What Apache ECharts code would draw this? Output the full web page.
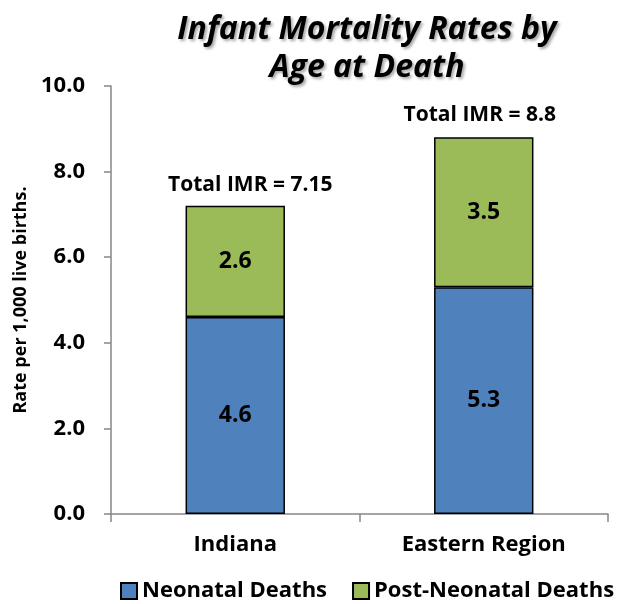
<!DOCTYPE html>
<html>
<head>
<meta charset="utf-8">
<script src="https://cdn.jsdelivr.net/npm/echarts@6/dist/echarts.min.js"></script>
<style>
  html, body { margin: 0; padding: 0; background: #fff; }
  #chart { width: 620px; height: 604px; }
</style>
</head>
<body>
<div id="chart"></div>
<script>
// data
const regions = ['Indiana', 'Eastern Region'];
const neonatal = [4.6, 5.3];
const postNeonatal = [2.6, 3.5];
const totalIMR = [7.15, 8.8];
const yTicks = [0, 2, 4, 6, 8, 10];

const FONT = '"Open Sans", sans-serif';
const AXIS_GRAY = '#868686';

const chart = echarts.init(document.getElementById('chart'));

// label nudges for the total text (the original sits a bit off centre)
const totalOffsets = [[15, 0], [-4, 0]];

const option = {
  backgroundColor: '#fff',
  animation: false,
  textStyle: { fontFamily: FONT },
  title: {
    text: 'Infant Mortality Rates by\nAge at Death',
    left: 362,
    textAlign: 'center',
    top: 6,
    textStyle: {
      fontFamily: FONT,
      fontSize: 32,
      fontWeight: 'bold',
      fontStyle: 'italic',
      color: '#000',
      lineHeight: 38,
      textShadowColor: 'rgba(0,0,0,0.35)',
      textShadowBlur: 3,
      textShadowOffsetX: 2,
      textShadowOffsetY: 2
    }
  },
  legend: {
    data: ['Neonatal Deaths', 'Post-Neonatal Deaths'],
    top: 575,
    left: 115,
    width: 560,
    icon: 'rect',
    itemWidth: 16,
    itemHeight: 16,
    itemGap: 25,
    textStyle: { fontFamily: FONT, fontSize: 22, fontWeight: 'bold', color: '#000' }
  },
  grid: { left: 111, right: 12, top: 86, bottom: 90 },
  xAxis: {
    type: 'category',
    data: regions,
    axisLine: { lineStyle: { color: AXIS_GRAY, width: 1.5 } },
    axisTick: { show: true, length: 8, lineStyle: { color: AXIS_GRAY, width: 1.5 } },
    axisLabel: { fontFamily: FONT, fontSize: 22, fontWeight: 'bold', color: '#000', margin: 20 }
  },
  yAxis: {
    type: 'value',
    min: yTicks[0],
    max: yTicks[yTicks.length - 1],
    interval: 2,
    name: 'Rate per 1,000 live births.',
    nameLocation: 'middle',
    nameRotate: 90,
    nameGap: 76,
    nameTextStyle: { fontFamily: FONT, fontSize: 18, fontWeight: 'bold', color: '#000' },
    axisLine: { show: true, lineStyle: { color: AXIS_GRAY, width: 1.5 } },
    axisTick: { show: true, length: 7, lineStyle: { color: AXIS_GRAY, width: 1.5 } },
    splitLine: { show: false },
    axisLabel: {
      fontFamily: FONT, fontSize: 22, fontWeight: 'bold', color: '#000', margin: 26,
      formatter: v => v.toFixed(1)
    }
  },
  series: [
    {
      name: 'Neonatal Deaths',
      type: 'bar',
      stack: 'imr',
      barWidth: '40%',
      data: neonatal,
      itemStyle: { color: '#4F81BD', borderColor: '#000', borderWidth: 1.5 },
      label: {
        show: true, position: 'inside',
        fontFamily: FONT, fontSize: 23, fontWeight: 'bold', color: '#000',
        formatter: p => p.value.toFixed(1)
      }
    },
    {
      name: 'Post-Neonatal Deaths',
      type: 'bar',
      stack: 'imr',
      barWidth: '40%',
      data: postNeonatal,
      itemStyle: { color: '#9BBB59', borderColor: '#000', borderWidth: 1.5 },
      label: {
        show: true, position: 'inside',
        fontFamily: FONT, fontSize: 23, fontWeight: 'bold', color: '#000',
        formatter: p => p.value.toFixed(1)
      }
    },
    {
      name: 'Total IMR',
      type: 'scatter',
      symbolSize: 0,
      silent: true,
      data: totalIMR.map((v, i) => ({
        value: v,
        label: { offset: totalOffsets[i] }
      })),
      label: {
        show: true, position: 'top', distance: 12,
        fontFamily: FONT, fontSize: 21, fontWeight: 'bold', color: '#000', opacity: 1,
        formatter: p => 'Total IMR = ' + p.value
      }
    }
  ]
};

chart.setOption(option);
</script>
</body>
</html>
